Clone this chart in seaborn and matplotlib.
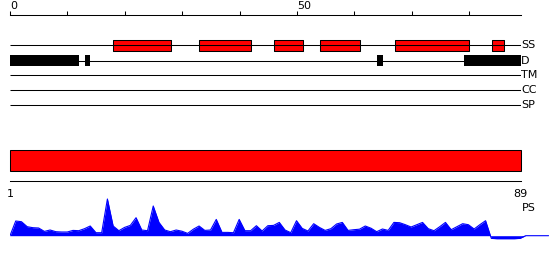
import matplotlib
matplotlib.use("Agg")
import matplotlib.pyplot as plt
import seaborn as sns
import numpy as np
import pandas as pd

# ---------------- data ----------------
seq_length = 89
top_ticks = [0, 10, 20, 30, 40, 50, 60, 70, 80]
top_tick_labels = ["0", "", "", "", "", "50", "", "", ""]
tracks = ["SS", "D", "TM", "CC", "SP"]
ss_segments = [(18, 28), (33, 42), (46, 51), (54, 61), (67, 80), (84, 86)]
d_segments = [(0, 12), (13, 14), (64, 65), (79, 89)]
region_start = 1
region_end = 89
bottom_ticks = [1, 89]
bottom_tick_labels = ["1", "89"]
profile_label = "PS"
profile_values = [0, 14.7, 14, 9, 8, 7.7, 4.3, 5.7, 4, 3.7,
                  3.7, 5.3, 5, 7, 9.7, 3, 3, 36.7, 9.7, 5,
                  8.3, 10.3, 18, 5.7, 5, 29.7, 13.3, 5.7, 4, 5.7,
                  4.5, 2.3, 6.5, 9.7, 5.3, 5.7, 16.3, 3.3, 3.3, 3,
                  16.3, 5, 5, 10, 4.7, 10, 10.3, 13.3, 5.7, 3,
                  15, 7.3, 4.7, 12, 8.3, 5.3, 7, 11.7, 13.3, 5.3,
                  6, 6.5, 9.7, 7.5, 4, 6.7, 5.3, 13.3, 13, 11,
                  8.7, 11, 13.3, 7, 5, 9, 13.3, 6, 9, 12,
                  11, 6.7, 11, 15, -2.7, -3, -3, -3, -3, -2.7,
                  0, 0, 0, 0, 0]

# ---------------- style ----------------
sns.set_style("white")
plt.rcParams["font.family"] = ["DejaVu Sans"]
plt.rcParams["text.color"] = "black"
plt.rcParams["xtick.color"] = "black"
plt.rcParams["xtick.labelcolor"] = "black"
W, H = 550, 260
fig = plt.figure(figsize=(W / 100, H / 100), dpi=100)

def px_axes(x0, x1, y0, y1):
    return fig.add_axes([x0 / W, (H - y1) / H, (x1 - x0) / W, (y1 - y0) / H])

LW = 0.75
RED = "#ff0000"

# ---------------- tracks ----------------
ax1 = px_axes(10, 521, 0, 112)
ax1.set_xlim(0, seq_length)
ax1.set_ylim(112, 0)
track_y = [45.3, 60.5, 75.3, 90, 105.3]
for sp in ["left", "right", "bottom"]:
    ax1.spines[sp].set_visible(False)
ax1.spines["top"].set_position(("data", 15))
ax1.spines["top"].set_linewidth(LW)
ax1.spines["top"].set_color("black")
ax1.xaxis.set_ticks_position("top")
ax1.set_xticks(top_ticks)
ax1.set_xticklabels(top_tick_labels, ha="left", fontsize=8)
ax1.tick_params(axis="x", direction="out", length=3, width=LW, pad=0, colors="black")
ax1.set_yticks([])
ax1.hlines(track_y, 0, seq_length, color="black", linewidth=LW)
ax1.broken_barh([(s, e - s) for s, e in ss_segments], (track_y[0] - 5.3, 10.6),
                facecolor=RED, edgecolor="black", linewidth=LW, clip_on=False)
ax1.broken_barh([(s, e - s) for s, e in d_segments], (track_y[1] - 5.5, 11),
                facecolor="black", edgecolor="black", linewidth=0, clip_on=False)
for name, y in zip(tracks, track_y):
    ax1.text(seq_length, y, name, ha="left", va="center", fontsize=8, color="black")

# ---------------- region bar ----------------
ax2 = px_axes(10, 520.7, 140, 200)
ax2.set_xlim(region_start, region_end)
ax2.set_ylim(200, 140)
for sp in ["left", "right", "top"]:
    ax2.spines[sp].set_visible(False)
ax2.spines["bottom"].set_position(("data", 180.7))
ax2.spines["bottom"].set_linewidth(LW)
ax2.spines["bottom"].set_color("black")
ax2.barh([160.3], [region_end - region_start], left=region_start, height=20.6,
         color=RED, edgecolor="black", linewidth=LW, clip_on=False)
ax2.set_xticks(bottom_ticks)
ax2.set_xticklabels(bottom_tick_labels, fontsize=8)
ax2.tick_params(axis="x", direction="out", length=3.2, width=LW, pad=3, colors="black")
ax2.set_yticks([])

# ---------------- profile ----------------
ax3 = px_axes(10, 548.6, 190, 250)
n = len(profile_values)
df = pd.DataFrame({"pos": np.arange(n), "value": profile_values})
ax3.set_xlim(0, n - 1)
ax3.set_ylim(-(250 - 235.7), 235.7 - 190)
ax3.fill_between(df["pos"], 0, df["value"], color="#0000ff", linewidth=0)
sns.lineplot(data=df, x="pos", y="value", ax=ax3, color="#0000ff", linewidth=0.8)
ax3.axis("off")
fig.text(522 / W, 1 - 208 / H, profile_label, ha="left", va="center", fontsize=8,
         color="black")

fig.savefig("out.png", dpi=100)
